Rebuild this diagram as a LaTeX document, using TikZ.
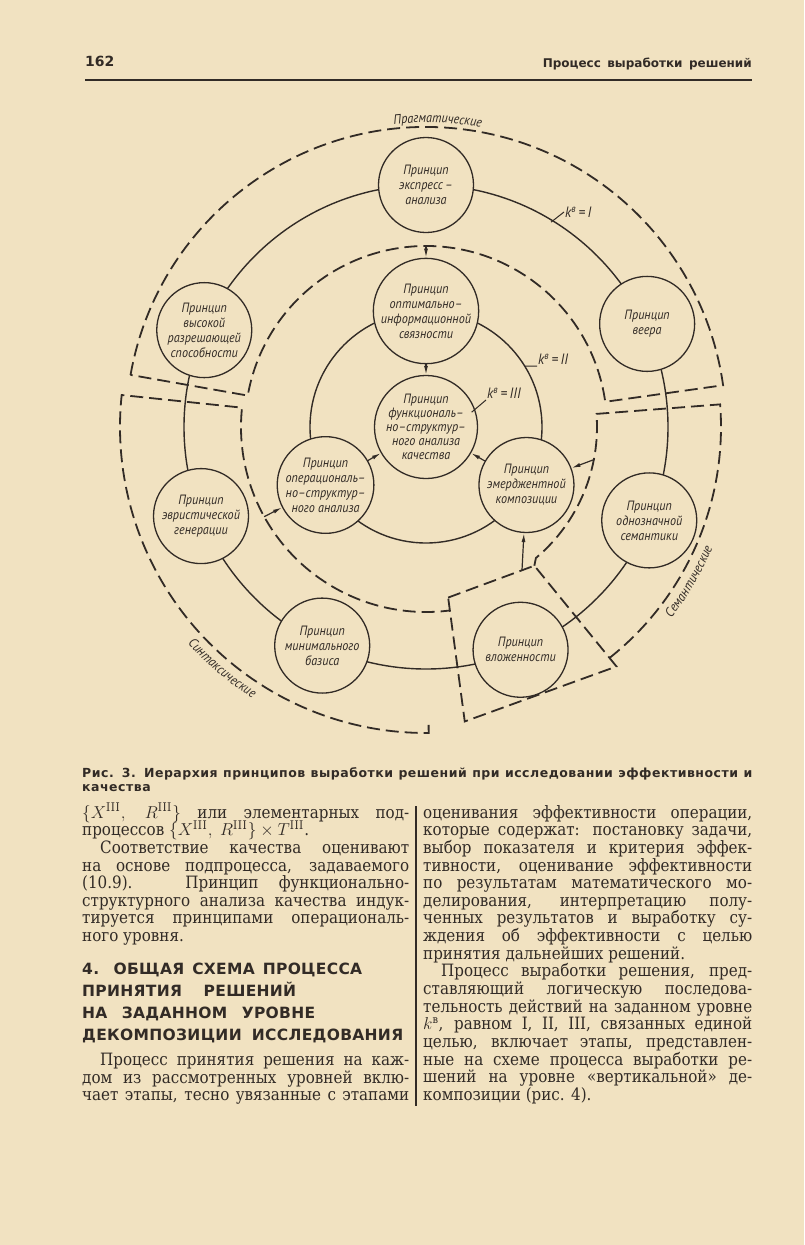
\documentclass[tikz,border=0pt]{standalone}
\usepackage{fontspec}
\setmainfont{DejaVu Serif}[FakeStretch=0.89]
\newfontfamily\gost{PT Sans}[FakeStretch=0.9]
\newfontfamily\hdsans{DejaVu Sans}
\newfontfamily\hdfont{DejaVu Sans}[LetterSpace=2]
\newfontfamily\cpfont{DejaVu Sans}[LetterSpace=4]
\usetikzlibrary{arrows.meta,decorations.text}

\definecolor{paper}{RGB}{241,226,193}
\definecolor{ink}{RGB}{50,43,38}

\newcommand{\nodefont}{\gost\itshape\fontsize{13.5}{15}\selectfont}
\newcommand{\labfont}{\gost\itshape\fontsize{13.5}{13.5}\selectfont}
\newcommand{\kfont}{\gost\itshape\fontsize{15}{15}\selectfont}
\newcommand{\bodyfont}{\fontsize{17}{17.7}\selectfont}

\begin{document}
\begin{tikzpicture}[x=1pt, y=1pt, >={Latex[length=9pt,width=4pt]}]
    \tikzstyle{prin}   = [draw=ink, circle, line width=1.3pt, fill=paper, minimum size=95pt, inner sep=0pt, align=center, text=ink, font=\nodefont]
    \tikzstyle{zone}   = [draw=ink, line width=1.8pt, dash pattern=on 13pt off 6pt]
    \tikzstyle{level}  = [draw=ink, line width=1.4pt]
    \tikzstyle{arrow}  = [draw=ink, line width=1.2pt, ->]
    \tikzstyle{klabel} = [anchor=south west, inner sep=1pt, text=ink, font=\kfont]
    \tikzstyle{leader} = [draw=ink, line width=1pt]
    \tikzstyle{body}   = [anchor=base west, inner sep=0pt, text=ink, font=\bodyfont]
    \tikzstyle{head}   = [anchor=base west, inner sep=0pt, text=ink, font=\hdfont\bfseries\fontsize{15.5}{18}\selectfont]

    % Paper
    \fill[paper] (0,0) rectangle (804,-1245);

    % Running head
    \node[anchor=base west, inner sep=0pt, text=ink, font=\hdsans\bfseries\fontsize{14}{14}\selectfont] (pgnum) at (85,-66) {162};
    \node[anchor=base east, inner sep=0pt, text=ink, font=\hdsans\bfseries\fontsize{12}{12}\selectfont] (runhead) at (752,-67) {\makebox[209pt][s]{Процесс выработки решений}};
    \draw[ink, line width=2pt] (85,-80) -- (752,-80);

    % Diagram
    \begin{scope}[shift={(426,-427)}]
        % Zones
        \draw[zone] (170:300) arc[start angle=170, end angle=8, radius=300] -- (8:181) arc[start angle=8, end angle=170, radius=181] -- cycle;
        \draw[zone] (270.5:298) -- (270.5:306) arc[start angle=270.5, end angle=174, radius=306] -- (174:185) arc[start angle=174, end angle=277.5, radius=185];
        \draw[zone] (-51.5:295) arc[start angle=-51.5, end angle=4.4, radius=295] -- (4.4:171) arc[start angle=4.4, end angle=-50, radius=171] -- (-52:176);
        \draw[zone] (-82.6:172) -- (-52:176) -- (-51.5:306) -- (-82.5:297) -- cycle;

        % Zone names
        \path[decorate, decoration={text along path, text={|\labfont|Прагматические}, text align=center, text color=ink}] (111.8:304.5) arc[start angle=111.8, end angle=63.8, radius=304.5];
        \path[decorate, decoration={text along path, text={|\labfont|Семантические}, text align=center, text color=ink}] (-50.4:311) arc[start angle=-50.4, end angle=-10.4, radius=311];
        \path[decorate, decoration={text along path, text={|\labfont|Синтаксические}, text align=center, text color=ink}] (209.8:322) arc[start angle=209.8, end angle=249.8, radius=322];

        % Levels
        \draw[level] (0,0) circle[radius=242];
        \draw[level] (0,0) circle[radius=116];

        % Level I
        \node[prin] (expr)    at (90:242)    {Принцип\\экспресс\,–\\анализа};
        \node[prin] (highres) at (156.4:242) {Принцип\\высокой\\разрешающей\\способности};
        \node[prin] (fan)     at (25:244)    {Принцип\\веера};
        \node[prin] (heur)    at (201.6:242) {Принцип\\эвристической\\генерации};
        \node[prin] (single)  at (-22.7:242) {Принцип\\однозначной\\семантики};
        \node[prin] (minbas)  at (244.6:242) {Принцип\\минимального\\базиса};
        \node[prin] (nest)    at (293:242)   {Принцип\\вложенности};

        % Level II
        \node[prin] (opt)  at (90:116)  {Принцип\\оптимально–\\информационной\\связности};
        \node[prin] (oper) at (210:116) {Принцип\\операциональ–\\но–структур–\\ного анализа};
        \node[prin] (emer) at (330:116) {Принцип\\эмерджентной\\композиции};

        % Level III
        \node[prin, font=\gost\itshape\fontsize{13.5}{14}\selectfont] (func) at (0,0) {Принцип\\функциональ–\\но–структур–\\ного анализа\\качества};

        % Level marks
        \node[klabel, anchor=west] (kI) at (138,215) {k\textsuperscript{в}\,=\,I};
        \node[klabel] (kII)  at (111,61) {k\textsuperscript{в}\,=\,II};
        \node[klabel] (kIII) at (60,27)  {k\textsuperscript{в}\,=\,III};
        \coordinate (kIfoot)   at (58.6:240);
        \coordinate (kIIfoot)  at (31.7:116);
        \coordinate (kIIIfoot) at (18:48);
        \draw[leader] (kIfoot) -- (kI.west);
        \draw[leader] (kIIfoot) -- (kII.south west);
        \draw[leader] (kIIIfoot) -- (kIII.south west);

        % Arrow feet
        \coordinate (pragin)  at (90:181);
        \coordinate (syntin)  at (209:185);
        \coordinate (semin)   at (-11:171);
        \coordinate (nesttop) at (96,-143);

        % Connections
        \draw[arrow] (pragin) -- (opt);
        \draw[arrow] (opt) -- (func);
        \draw[arrow] (oper) -- (func);
        \draw[arrow] (emer) -- (func);
        \draw[arrow] (syntin) -- (oper);
        \draw[arrow] (semin) -- (emer);
        \draw[arrow] (nesttop) -- (emer);
    \end{scope}

    % Caption
    \node[anchor=base west, inner sep=0pt, text=ink, font=\cpfont\bfseries\fontsize{12.5}{13}\selectfont] (cap1) at (82,-777) {\makebox[670pt][s]{Рис. 3. Иерархия принципов выработки решений при исследовании эффективности и}};
    \node[anchor=base west, inner sep=0pt, text=ink, font=\cpfont\bfseries\fontsize{12.5}{13}\selectfont] (cap2) at (82,-791) {качества};

    % Column rule
    \draw[ink, line width=1.3pt] (416,-806) -- (416,-1106);

    % Left column
    \node[body] (l1) at (82,-818)    {\makebox[327pt][s]{$\{X^{\mathrm{III}},\ R^{\mathrm{III}}\}$ или элементарных под-}};
    \node[body] (l2) at (82,-835.7)  {процессов $\{X^{\mathrm{III}},\ R^{\mathrm{III}}\}\times T^{\mathrm{III}}$.};
    \node[body] (l3) at (100,-853.3) {\makebox[309pt][s]{Соответствие качества оценивают}};
    \node[body] (l4) at (82,-871)    {\makebox[327pt][s]{на основе подпроцесса, задаваемого}};
    \node[body] (l5) at (82,-888.6)  {\makebox[327pt][s]{(10.9). Принцип функционально-}};
    \node[body] (l6) at (82,-906.3)  {\makebox[327pt][s]{структурного анализа качества индук-}};
    \node[body] (l7) at (82,-923.9)  {\makebox[327pt][s]{тируется принципами операциональ-}};
    \node[body] (l8) at (82,-941.6)  {ного уровня.};

    % Section heading
    \node[head] (h1) at (82,-974)  {\makebox[280pt][s]{4. ОБЩАЯ СХЕМА ПРОЦЕССА}};
    \node[head] (h2) at (82,-996)  {\makebox[214pt][s]{ПРИНЯТИЯ РЕШЕНИЙ}};
    \node[head] (h3) at (82,-1018) {\makebox[233pt][s]{НА ЗАДАННОМ УРОВНЕ}};
    \node[head] (h4) at (82,-1040) {\makebox[321pt][s]{ДЕКОМПОЗИЦИИ ИССЛЕДОВАНИЯ}};

    \node[body] (l13) at (100,-1065)  {\makebox[309pt][s]{Процесс принятия решения на каж-}};
    \node[body] (l14) at (82,-1083)   {\makebox[327pt][s]{дом из рассмотренных уровней вклю-}};
    \node[body] (l15) at (82,-1100.5) {\makebox[327pt][s]{чает этапы, тесно увязанные с этапами}};

    % Right column
    \node[body] (r1)  at (423,-818)    {\makebox[329pt][s]{оценивания эффективности операции,}};
    \node[body] (r2)  at (423,-835.7)  {\makebox[329pt][s]{которые содержат: постановку задачи,}};
    \node[body] (r3)  at (423,-853.3)  {\makebox[329pt][s]{выбор показателя и критерия эффек-}};
    \node[body] (r4)  at (423,-871)    {\makebox[329pt][s]{тивности, оценивание эффективности}};
    \node[body] (r5)  at (423,-888.6)  {\makebox[329pt][s]{по результатам математического мо-}};
    \node[body] (r6)  at (423,-906.3)  {\makebox[329pt][s]{делирования, интерпретацию полу-}};
    \node[body] (r7)  at (423,-923.9)  {\makebox[329pt][s]{ченных результатов и выработку су-}};
    \node[body] (r8)  at (423,-941.6)  {\makebox[329pt][s]{ждения об эффективности с целью}};
    \node[body] (r9)  at (423,-959.2)  {принятия дальнейших решений.};
    \node[body] (r10) at (441,-976.9)  {\makebox[311pt][s]{Процесс выработки решения, пред-}};
    \node[body] (r11) at (423,-994.5)  {\makebox[329pt][s]{ставляющий логическую последова-}};
    \node[body] (r12) at (423,-1012.2) {\makebox[329pt][s]{тельность действий на заданном уровне}};
    \node[body] (r13) at (423,-1029.8) {\makebox[329pt][s]{$k^{\mbox{\fontsize{11}{11}\selectfont в}}$, равном I, II, III, связанных единой}};
    \node[body] (r14) at (423,-1047.5) {\makebox[329pt][s]{целью, включает этапы, представлен-}};
    \node[body] (r15) at (423,-1065.1) {\makebox[329pt][s]{ные на схеме процесса выработки ре-}};
    \node[body] (r16) at (423,-1082.8) {\makebox[329pt][s]{шений на уровне «вертикальной» де-}};
    \node[body] (r17) at (423,-1100.4) {композиции (рис. 4).};
\end{tikzpicture}
\end{document}
